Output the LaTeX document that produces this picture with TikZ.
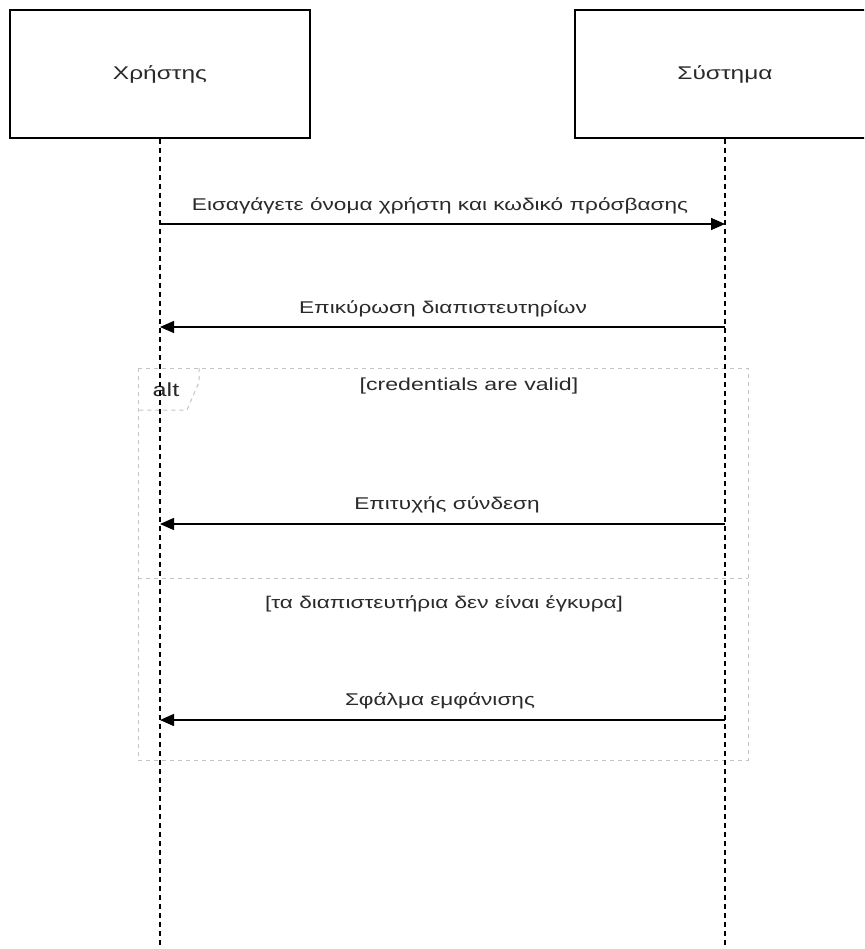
\documentclass[tikz,border=0pt]{standalone}
\usepackage{fontspec}
\setmainfont{Liberation Sans}[FakeStretch=1.33]
\usetikzlibrary{arrows.meta}
\definecolor{txt}{HTML}{2A2A2A}
\definecolor{frm}{HTML}{C4C4C4}
\begin{document}
\begin{tikzpicture}[x=1pt,y=-1pt,
  actor/.style={draw=black,line width=1.5pt,minimum width=300pt,minimum height=128pt,inner sep=0pt,text=txt,font=\fontsize{18.4}{21}\selectfont},
  life/.style={line width=1.4pt,dash pattern=on 5pt off 4pt},
  msg/.style={line width=1.4pt,-{Triangle[length=14pt,width=12pt]}},
  lbl/.style={text=txt,font=\fontsize{17}{20}\selectfont,inner sep=0pt},
  frame/.style={draw=frm,line width=1pt,dash pattern=on 4pt off 4pt}]
\useasboundingbox (0,0) rectangle (864,949);
\clip (0,0) rectangle (864,949);
\fill[white] (0,0) rectangle (864,949);
% actors
\node[actor] (u) at (160,74) {Χρήστης};
\node[actor] (s) at (725,74) {Σύστημα};
% alt frame
\coordinate (ftl) at (138,368);
\coordinate (fbr) at (748,760);
\draw[frame] (ftl) rectangle (fbr);
\coordinate (dl) at (138,578);
\coordinate (dr) at (748,578);
\draw[frame] (dl) -- (dr);
\coordinate (p1) at (199,368);
\coordinate (p2) at (199,382);
\coordinate (p3) at (187,410);
\coordinate (p4) at (138,410);
\draw[frame] (p1) -- (p2) -- (p3) -- (p4);
\node[lbl,font=\fontsize{19}{22}\selectfont] (alt) at (166,390) {alt};
\node[lbl,font=\fontsize{17.4}{20}\selectfont] (g1) at (469,386) {[credentials are valid]};
\node[lbl] (g2) at (444,604) {[τα διαπιστευτήρια δεν είναι έγκυρα]};
% lifelines
\coordinate (uend) at (160,949);
\coordinate (send) at (725,949);
\draw[life] (u.south) -- (uend);
\draw[life] (s.south) -- (send);
% messages
\coordinate (u1) at (160,224); \coordinate (s1) at (725,224);
\coordinate (u2) at (160,327); \coordinate (s2) at (725,327);
\coordinate (u3) at (160,524); \coordinate (s3) at (725,524);
\coordinate (u4) at (160,720); \coordinate (s4) at (725,720);
\draw[msg] (u1) -- (s1);
\draw[msg] (s2) -- (u2);
\draw[msg] (s3) -- (u3);
\draw[msg] (s4) -- (u4);
\node[lbl] (m1) at (440,206) {Εισαγάγετε όνομα χρήστη και κωδικό πρόσβασης};
\node[lbl] (m2) at (443,309) {Επικύρωση διαπιστευτηρίων};
\node[lbl] (m3) at (447,505) {Επιτυχής σύνδεση};
\node[lbl] (m4) at (440,701) {Σφάλμα εμφάνισης};
\end{tikzpicture}
\end{document}
